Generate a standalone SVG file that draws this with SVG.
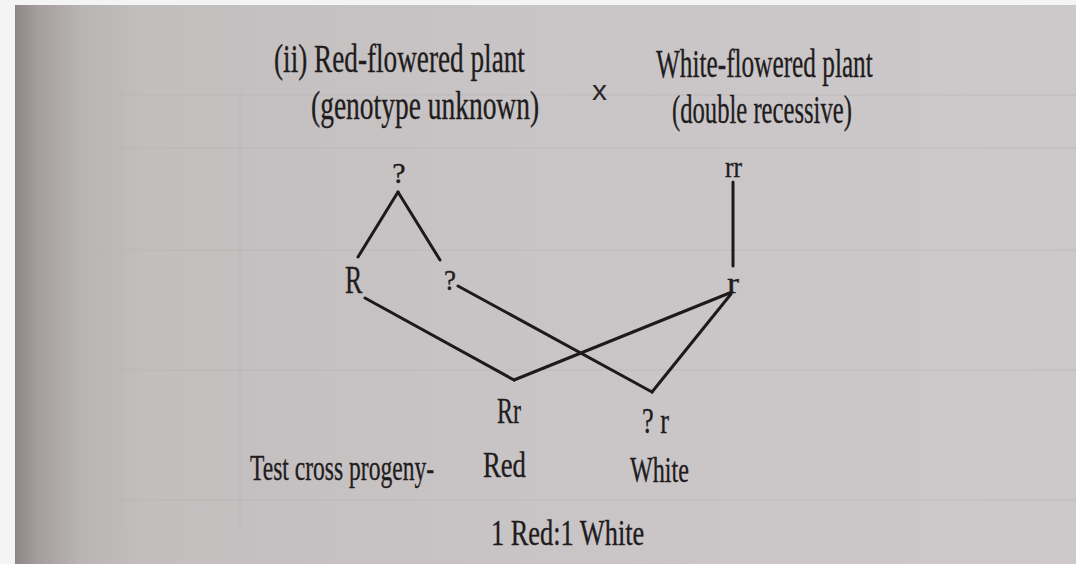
<svg xmlns="http://www.w3.org/2000/svg" width="1076" height="564" viewBox="0 0 1076 564">
  <defs>
    <linearGradient id="page" x1="0" y1="0" x2="1" y2="0">
      <stop offset="0" stop-color="#8c8786"/>
      <stop offset="0.02" stop-color="#a29d9c"/>
      <stop offset="0.06" stop-color="#b9b4b4"/>
      <stop offset="0.12" stop-color="#c3bebe"/>
      <stop offset="0.5" stop-color="#c9c5c6"/>
      <stop offset="1" stop-color="#cdc9cb"/>
    </linearGradient>
    <style>
      .t { font-family: "Liberation Serif", serif; fill: #1f1c1d; stroke: #1f1c1d; stroke-width: 0.35; }
      .big { font-size: 40px; }
      .mid { font-size: 36px; }
      .sm { font-size: 30px; }
      .lbl { font-family: "Liberation Sans", sans-serif; fill: #2a2728; font-size: 28px; }
      .c { stroke: #1c1a1b; stroke-width: 3; fill: none; stroke-linecap: round; }
      .faint { stroke: #b9b4b5; stroke-width: 2; fill: none; opacity: 0.35; }
    </style>
  </defs>

  <rect x="0" y="0" width="1076" height="564" fill="#f4f4f4"/>
  <rect x="15" y="5" width="1061" height="559" fill="url(#page)"/>

  <g id="showthrough">
    <line class="faint" x1="120" y1="95" x2="1076" y2="95"/>
    <line class="faint" x1="120" y1="148" x2="1076" y2="148"/>
    <line class="faint" x1="120" y1="250" x2="1076" y2="250"/>
    <line class="faint" x1="120" y1="370" x2="1076" y2="370"/>
    <line class="faint" x1="120" y1="500" x2="1076" y2="500"/>
    <line class="faint" x1="122" y1="88" x2="122" y2="530"/>
    <line class="faint" x1="240" y1="90" x2="240" y2="530"/>
  </g>

  <g id="connectors">
    <line class="c" x1="398" y1="192" x2="358" y2="257"/>
    <line class="c" x1="398" y1="192" x2="440" y2="260"/>
    <line class="c" x1="365" y1="298" x2="514" y2="380"/>
    <line class="c" x1="458" y1="286" x2="652" y2="392"/>
    <line class="c" x1="514" y1="380" x2="732" y2="292"/>
    <line class="c" x1="652" y1="392" x2="731" y2="294"/>
    <line class="c" x1="733" y1="182" x2="733" y2="266" stroke-width="2.5"/>
  </g>

  <g id="parent-red">
    <text class="t big" transform="translate(274,72) scale(0.68,1)" textLength="369" lengthAdjust="spacingAndGlyphs">(ii) Red-flowered plant</text>
    <text class="t big" transform="translate(311,119) scale(0.687,1)" textLength="332" lengthAdjust="spacingAndGlyphs">(genotype unknown)</text>
  </g>

  <g id="cross">
    <text class="lbl" x="592" y="100" textLength="15" lengthAdjust="spacingAndGlyphs">x</text>
  </g>

  <g id="parent-white">
    <text class="t big" transform="translate(656,77) scale(0.632,1)" textLength="343" lengthAdjust="spacingAndGlyphs">White-flowered plant</text>
    <text class="t big" transform="translate(672,123) scale(0.616,1)" textLength="292" lengthAdjust="spacingAndGlyphs">(double recessive)</text>
  </g>

  <g id="genotype-unknown">
    <text class="t sm" x="399" y="183" text-anchor="middle">?</text>
  </g>

  <g id="genotype-rr">
    <text class="t sm" transform="translate(725,177) scale(0.85,1)" textLength="20" lengthAdjust="spacingAndGlyphs">rr</text>
  </g>

  <g id="gamete-R">
    <text class="t big" transform="translate(345,293) scale(0.64,1)" textLength="27" lengthAdjust="spacingAndGlyphs">R</text>
  </g>

  <g id="gamete-q">
    <text class="t sm" x="444" y="290" textLength="12" lengthAdjust="spacingAndGlyphs">?</text>
  </g>

  <g id="gamete-r">
    <text class="t sm" x="727" y="293" textLength="12" lengthAdjust="spacingAndGlyphs">r</text>
  </g>

  <g id="progeny-Rr">
    <text class="t mid" transform="translate(497,423) scale(0.667,1)" textLength="36" lengthAdjust="spacingAndGlyphs">Rr</text>
    <text class="t mid" transform="translate(483,477) scale(0.74,1)" textLength="58" lengthAdjust="spacingAndGlyphs">Red</text>
  </g>

  <g id="progeny-qr">
    <text class="t mid" transform="translate(642,433) scale(0.73,1)" textLength="37" lengthAdjust="spacingAndGlyphs">? r</text>
    <text class="t mid" transform="translate(630,482) scale(0.67,1)" textLength="88" lengthAdjust="spacingAndGlyphs">White</text>
  </g>

  <g id="progeny-label">
    <text class="t mid" transform="translate(250,480) scale(0.648,1)" textLength="284" lengthAdjust="spacingAndGlyphs">Test cross progeny-</text>
  </g>

  <g id="ratio">
    <text class="t mid" transform="translate(491,545) scale(0.73,1)" textLength="210" lengthAdjust="spacingAndGlyphs">1 Red:1 White</text>
  </g>
</svg>
